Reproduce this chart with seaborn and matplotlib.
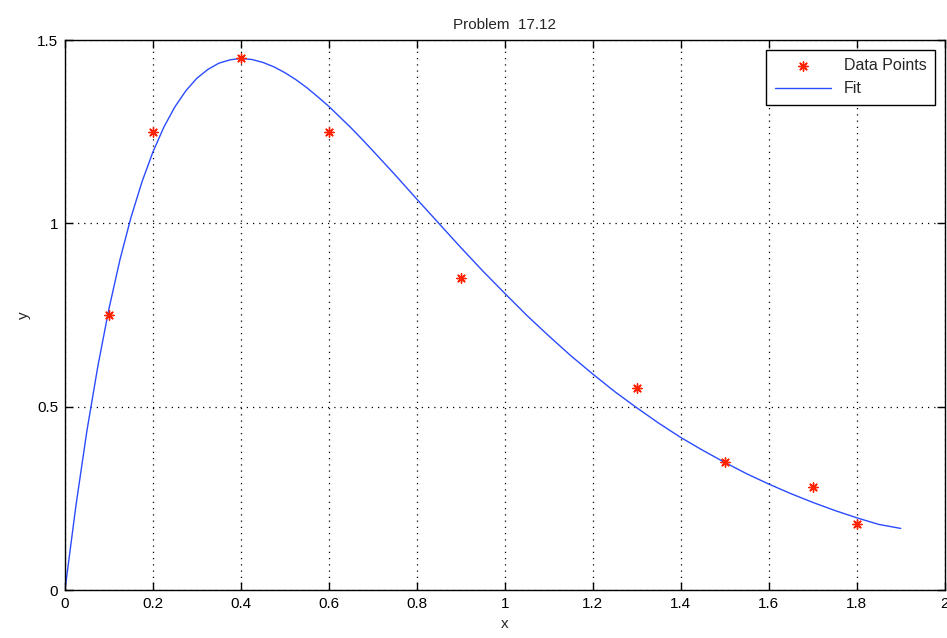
import numpy as np
import pandas as pd
import seaborn as sns
import matplotlib
matplotlib.use("Agg")
import matplotlib.pyplot as plt

sns.set_style("white")
plt.rcParams['font.family'] = ['Liberation Sans', 'DejaVu Sans']

# measured data points
x_data = [0.1, 0.2, 0.4, 0.6, 0.9, 1.3, 1.5, 1.7, 1.8]
y_data = [0.75, 1.25, 1.45, 1.25, 0.85, 0.55, 0.35, 0.28, 0.18]

# fit curve
x_fit = [0.0, 0.025, 0.05, 0.075, 0.1, 0.125, 0.15, 0.175, 0.2, 0.225, 0.25,
         0.275, 0.3, 0.325, 0.35, 0.375, 0.4, 0.425, 0.45, 0.475, 0.5, 0.525,
         0.55, 0.575, 0.6, 0.625, 0.65, 0.675, 0.7, 0.75, 0.8, 0.85, 0.9, 0.95,
         1.0, 1.05, 1.1, 1.15, 1.2, 1.25, 1.3, 1.35, 1.4, 1.45, 1.5, 1.55, 1.6,
         1.65, 1.7, 1.75, 1.8, 1.85, 1.9]
y_fit = [0.0, 0.231, 0.435, 0.612, 0.767, 0.901, 1.016, 1.113, 1.195, 1.263,
         1.318, 1.362, 1.396, 1.420, 1.437, 1.446, 1.450, 1.447, 1.439, 1.427,
         1.411, 1.392, 1.370, 1.345, 1.319, 1.290, 1.261, 1.230, 1.198, 1.133,
         1.066, 1.000, 0.934, 0.870, 0.809, 0.749, 0.693, 0.639, 0.589, 0.541,
         0.497, 0.455, 0.416, 0.381, 0.348, 0.317, 0.289, 0.263, 0.239, 0.217,
         0.197, 0.179, 0.168]

pts = pd.DataFrame({"x": x_data, "y": y_data})
fit = pd.DataFrame({"x": x_fit, "y": y_fit})

fig = plt.figure(figsize=(9.47, 6.38), dpi=100)
ax = fig.add_axes([0.0686, 0.0752, 0.929, 0.862])

sns.scatterplot(data=pts, x="x", y="y", ax=ax, marker=(8, 2, 0), s=45,
                color="#ff2200", linewidth=1.0, edgecolor="#ff2200",
                label="Data Points", zorder=3)
sns.lineplot(data=fit, x="x", y="y", ax=ax, color="#2a4bff", linewidth=1.0,
             label="Fit", zorder=2)

ax.set_xlim(0, 2)
ax.set_ylim(0, 1.5)
ax.set_xticks(np.arange(0, 2.01, 0.2))
ax.set_xticklabels(["0", "0.2", "0.4", "0.6", "0.8", "1", "1.2", "1.4", "1.6", "1.8", "2"])
ax.set_yticks([0, 0.5, 1, 1.5])
ax.set_yticklabels(["0", "0.5", "1", "1.5"])
ax.grid(True, color="black", linestyle=(0, (1, 4)), linewidth=0.9)
ax.tick_params(direction="in", length=6, width=1, labelsize=11, colors="black",
               top=True, right=True, bottom=True, left=True, pad=5)
for s in ax.spines.values():
    s.set_color("black")
    s.set_linewidth(1.0)

ax.set_xlabel("x", fontsize=11)
ax.set_ylabel("y", fontsize=11)
ax.set_title("Problem  17.12", fontsize=11, pad=8)

leg = ax.legend(loc="upper right", fontsize=11.5, frameon=True, fancybox=False,
                edgecolor="black", framealpha=1, borderpad=0.55,
                handlelength=3.5, borderaxespad=0.6)
leg.get_frame().set_linewidth(1.0)

fig.savefig("out.png", dpi=100)
